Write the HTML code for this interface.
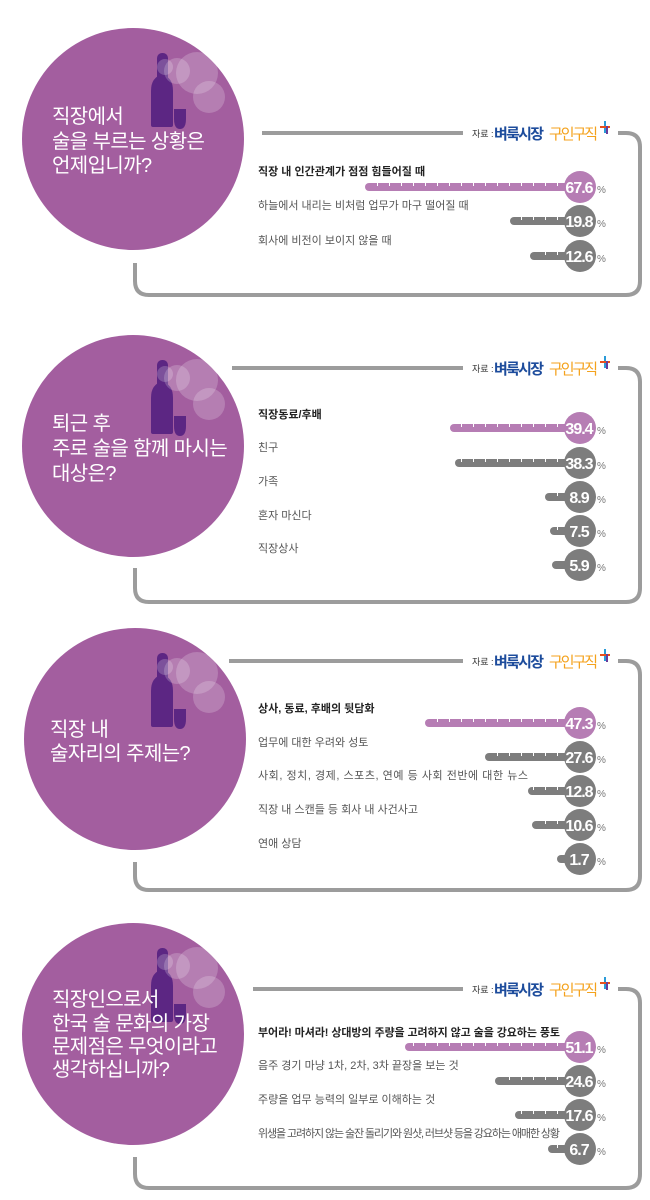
<!DOCTYPE html>
<html><head><meta charset="utf-8"><style>
html,body{margin:0;padding:0;background:#fff;}
svg{display:block;}
.q{font-family:"Liberation Sans","Noto Sans CJK KR",sans-serif;font-size:20px;fill:#fff;letter-spacing:-0.6px;}
.l{font-family:"Liberation Sans","Noto Sans CJK KR",sans-serif;font-size:11px;fill:#555;}
.l1{fill:#222;font-weight:bold;}
.n{font-family:"Liberation Sans",sans-serif;font-size:16px;font-weight:bold;fill:#fff;letter-spacing:-1px;}
.p{font-family:"Liberation Sans",sans-serif;font-size:10px;fill:#777;}
.s1{font-family:"Liberation Sans","Noto Sans CJK KR",sans-serif;font-size:9px;fill:#333;}
.s2{font-family:"Liberation Sans","Noto Sans CJK KR",sans-serif;font-size:15px;font-weight:bold;fill:#1d4c9c;}
.s3{font-family:"Liberation Sans","Noto Sans CJK KR",sans-serif;font-size:15px;fill:#f4a21c;}
</style></head><body>
<svg width="650" height="1200" viewBox="0 0 650 1200" xmlns="http://www.w3.org/2000/svg">
<defs>
<pattern id="tk" patternUnits="userSpaceOnUse" width="12" height="10"><rect x="5" y="0" width="1" height="10" fill="#fff"/></pattern>
<g id="deco">
  <rect x="24" y="-86" width="11" height="40" rx="5" fill="#5c2683"/>
  <path d="M18,-48 Q18,-62 29,-64 Q40,-62 40,-48 L40,-14 Q40,-12 38,-12 L20,-12 Q18,-12 18,-14 Z" fill="#5c2683"/>
  <path d="M41,-30 H53 V-20 Q53,-10 47,-10 Q41,-10 41,-20 Z" fill="#5c2683"/>
  <circle cx="64" cy="-66" r="21" fill="#fff" fill-opacity="0.2"/>
  <circle cx="76" cy="-42" r="16" fill="#fff" fill-opacity="0.2"/>
  <circle cx="44" cy="-68" r="13" fill="#fff" fill-opacity="0.2"/>
  <circle cx="32" cy="-72" r="8" fill="#fff" fill-opacity="0.2"/>
</g>
<g id="src">
  <text x="472" y="4" class="s1">자료 :</text>
  <text x="494" y="6" class="s2" textLength="50">벼룩시장</text>
  <text x="549" y="6" class="s3" textLength="49">구인구직</text>
  <rect x="604" y="-12" width="2" height="12" fill="#2a9bd8"/>
  <rect x="600" y="-7" width="10" height="2" fill="#e8501c"/>
  <rect x="606" y="-7" width="2" height="8" fill="#6a3c9a"/>
</g>
</defs>

<!-- Panel 1 -->
<circle cx="133" cy="139" r="111" fill="#a35e9f"/>
<use href="#deco" x="133" y="139"/>
<text class="q" x="52" y="123">직장에서</text>
<text class="q" x="52" y="148">술을 부르는 상황은</text>
<text class="q" x="52" y="172">언제입니까?</text>
<path d="M262,133 H463 M618,133 H626 Q640,133 640,147 V281 Q640,295 626,295 H149 Q135,295 135,281 V263" fill="none" stroke="#9c9c9c" stroke-width="4"/>
<use href="#src" y="133"/>

<text class="l l1" x="258" y="175">직장 내 인간관계가 점점 힘들어질 때</text>
<rect x="365" y="183" width="215" height="8" rx="4" fill="#b67db4"/><rect x="369" y="183" width="196" height="3" fill="url(#tk)"/>
<circle cx="580" cy="187" r="16" fill="#b67db4"/><text class="n" x="579" y="193" text-anchor="middle">67.6</text><text class="p" x="597" y="193">%</text>

<text class="l" x="258" y="209">하늘에서 내리는 비처럼 업무가 마구 떨어질 때</text>
<rect x="510" y="217" width="70" height="8" rx="4" fill="#7d7d7d"/><rect x="514" y="217" width="50" height="3" fill="url(#tk)"/>
<circle cx="580" cy="221" r="16" fill="#7d7d7d"/><text class="n" x="579" y="227" text-anchor="middle">19.8</text><text class="p" x="597" y="227">%</text>

<text class="l" x="258" y="244">회사에 비전이 보이지 않을 때</text>
<rect x="530" y="252" width="50" height="8" rx="4" fill="#7d7d7d"/><rect x="534" y="252" width="30" height="3" fill="url(#tk)"/>
<circle cx="580" cy="256" r="16" fill="#7d7d7d"/><text class="n" x="579" y="262" text-anchor="middle">12.6</text><text class="p" x="597" y="262">%</text>

<!-- Panel 2 -->
<circle cx="133" cy="446" r="111" fill="#a35e9f"/>
<use href="#deco" x="133" y="446"/>
<text class="q" x="52" y="430">퇴근 후</text>
<text class="q" x="52" y="455">주로 술을 함께 마시는</text>
<text class="q" x="52" y="480">대상은?</text>
<path d="M232,368 H463 M618,368 H626 Q640,368 640,382 V588 Q640,602 626,602 H149 Q135,602 135,588 V568" fill="none" stroke="#9c9c9c" stroke-width="4"/>
<use href="#src" y="368"/>

<text class="l l1" x="258" y="418">직장동료/후배</text>
<rect x="450" y="424" width="130" height="8" rx="4" fill="#b67db4"/><rect x="454" y="424" width="110" height="3" fill="url(#tk)"/>
<circle cx="580" cy="428" r="16" fill="#b67db4"/><text class="n" x="579" y="434" text-anchor="middle">39.4</text><text class="p" x="597" y="434">%</text>

<text class="l" x="258" y="451">친구</text>
<rect x="455" y="459" width="125" height="8" rx="4" fill="#7d7d7d"/><rect x="459" y="459" width="105" height="3" fill="url(#tk)"/>
<circle cx="580" cy="463" r="16" fill="#7d7d7d"/><text class="n" x="579" y="469" text-anchor="middle">38.3</text><text class="p" x="597" y="469">%</text>

<text class="l" x="258" y="485">가족</text>
<rect x="545" y="493" width="35" height="8" rx="4" fill="#7d7d7d"/><rect x="549" y="493" width="15" height="3" fill="url(#tk)"/>
<circle cx="580" cy="497" r="16" fill="#7d7d7d"/><text class="n" x="579" y="503" text-anchor="middle">8.9</text><text class="p" x="597" y="503">%</text>

<text class="l" x="258" y="519">혼자 마신다</text>
<rect x="550" y="527" width="30" height="8" rx="4" fill="#7d7d7d"/><rect x="554" y="527" width="10" height="3" fill="url(#tk)"/>
<circle cx="580" cy="531" r="16" fill="#7d7d7d"/><text class="n" x="579" y="537" text-anchor="middle">7.5</text><text class="p" x="597" y="537">%</text>

<text class="l" x="258" y="552">직장상사</text>
<rect x="552" y="561" width="28" height="8" rx="4" fill="#7d7d7d"/>
<circle cx="580" cy="565" r="16" fill="#7d7d7d"/><text class="n" x="579" y="571" text-anchor="middle">5.9</text><text class="p" x="597" y="571">%</text>

<!-- Panel 3 -->
<circle cx="135" cy="739" r="111" fill="#a35e9f"/>
<use href="#deco" x="133" y="739"/>
<text class="q" x="50" y="736">직장 내</text>
<text class="q" x="50" y="760">술자리의 주제는?</text>
<path d="M229,661 H463 M618,661 H626 Q640,661 640,675 V876 Q640,890 626,890 H149 Q135,890 135,876 V862" fill="none" stroke="#9c9c9c" stroke-width="4"/>
<use href="#src" y="661"/>

<text class="l l1" x="258" y="712">상사, 동료, 후배의 뒷담화</text>
<rect x="425" y="719" width="155" height="8" rx="4" fill="#b67db4"/><rect x="429" y="719" width="135" height="3" fill="url(#tk)"/>
<circle cx="580" cy="723" r="16" fill="#b67db4"/><text class="n" x="579" y="729" text-anchor="middle">47.3</text><text class="p" x="597" y="729">%</text>

<text class="l" x="258" y="746">업무에 대한 우려와 성토</text>
<rect x="485" y="753" width="95" height="8" rx="4" fill="#7d7d7d"/><rect x="489" y="753" width="75" height="3" fill="url(#tk)"/>
<circle cx="580" cy="757" r="16" fill="#7d7d7d"/><text class="n" x="579" y="763" text-anchor="middle">27.6</text><text class="p" x="597" y="763">%</text>

<text class="l" x="258" y="779" textLength="270">사회, 정치, 경제, 스포츠, 연예 등 사회 전반에 대한 뉴스</text>
<rect x="528" y="787" width="52" height="8" rx="4" fill="#7d7d7d"/><rect x="532" y="787" width="32" height="3" fill="url(#tk)"/>
<circle cx="580" cy="791" r="16" fill="#7d7d7d"/><text class="n" x="579" y="797" text-anchor="middle">12.8</text><text class="p" x="597" y="797">%</text>

<text class="l" x="258" y="813">직장 내 스캔들 등 회사 내 사건사고</text>
<rect x="532" y="821" width="48" height="8" rx="4" fill="#7d7d7d"/><rect x="536" y="821" width="28" height="3" fill="url(#tk)"/>
<circle cx="580" cy="825" r="16" fill="#7d7d7d"/><text class="n" x="579" y="831" text-anchor="middle">10.6</text><text class="p" x="597" y="831">%</text>

<text class="l" x="258" y="847">연애 상담</text>
<rect x="557" y="855" width="23" height="8" rx="4" fill="#7d7d7d"/>
<circle cx="580" cy="859" r="16" fill="#7d7d7d"/><text class="n" x="579" y="865" text-anchor="middle">1.7</text><text class="p" x="597" y="865">%</text>

<!-- Panel 4 -->
<circle cx="133" cy="1034" r="111" fill="#a35e9f"/>
<use href="#deco" x="133" y="1034"/>
<text class="q" x="52" y="1006">직장인으로서</text>
<text class="q" x="52" y="1030">한국 술 문화의 가장</text>
<text class="q" x="52" y="1053">문제점은 무엇이라고</text>
<text class="q" x="52" y="1076">생각하십니까?</text>
<path d="M253,989 H463 M618,989 H626 Q640,989 640,1003 V1174 Q640,1188 626,1188 H149 Q135,1188 135,1174 V1157" fill="none" stroke="#9c9c9c" stroke-width="4"/>
<use href="#src" y="989"/>

<text class="l l1" x="258" y="1036" textLength="302">부어라! 마셔라! 상대방의 주량을 고려하지 않고 술을 강요하는 풍토</text>
<rect x="405" y="1043" width="175" height="8" rx="4" fill="#b67db4"/><rect x="409" y="1043" width="155" height="3" fill="url(#tk)"/>
<circle cx="580" cy="1047" r="16" fill="#b67db4"/><text class="n" x="579" y="1053" text-anchor="middle">51.1</text><text class="p" x="597" y="1053">%</text>

<text class="l" x="258" y="1069">음주 경기 마냥 1차, 2차, 3차 끝장을 보는 것</text>
<rect x="495" y="1077" width="85" height="8" rx="4" fill="#7d7d7d"/><rect x="499" y="1077" width="65" height="3" fill="url(#tk)"/>
<circle cx="580" cy="1081" r="16" fill="#7d7d7d"/><text class="n" x="579" y="1087" text-anchor="middle">24.6</text><text class="p" x="597" y="1087">%</text>

<text class="l" x="258" y="1103">주량을 업무 능력의 일부로 이해하는 것</text>
<rect x="515" y="1111" width="65" height="8" rx="4" fill="#7d7d7d"/><rect x="519" y="1111" width="45" height="3" fill="url(#tk)"/>
<circle cx="580" cy="1115" r="16" fill="#7d7d7d"/><text class="n" x="579" y="1121" text-anchor="middle">17.6</text><text class="p" x="597" y="1121">%</text>

<text class="l" x="258" y="1137" textLength="302">위생을 고려하지 않는 술잔 돌리기와 원샷, 러브샷 등을 강요하는 애매한 상황</text>
<rect x="548" y="1145" width="32" height="8" rx="4" fill="#7d7d7d"/><rect x="552" y="1145" width="12" height="3" fill="url(#tk)"/>
<circle cx="580" cy="1149" r="16" fill="#7d7d7d"/><text class="n" x="579" y="1155" text-anchor="middle">6.7</text><text class="p" x="597" y="1155">%</text>
</svg>
</body></html>
